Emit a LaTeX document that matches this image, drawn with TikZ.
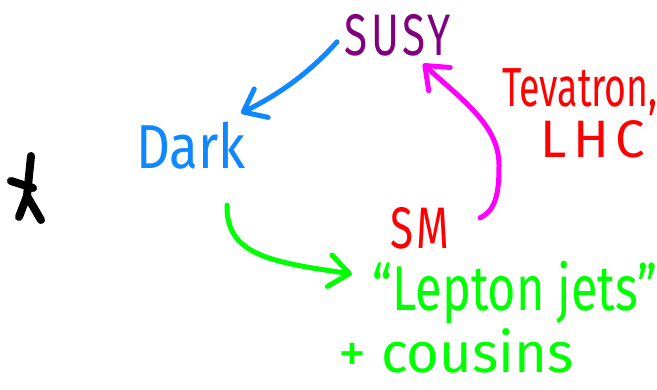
\documentclass[tikz,border=0pt]{standalone}
\usepackage{fontspec}
\setmainfont{Fira Sans}
\usetikzlibrary{arrows.meta}
\definecolor{cpurple}{RGB}{128,0,128}
\definecolor{cblue}{RGB}{15,135,255}
\definecolor{cred}{RGB}{255,0,0}
\definecolor{cmag}{RGB}{255,0,255}
\definecolor{cgreen}{RGB}{0,255,0}
\tikzset{
  lbl/.style={inner sep=0pt, outer sep=0pt},
  hand/.style={line width=0.15cm, line cap=round, line join=round,
    -{Straight Barb[length=0.6cm,width=0.95cm,line cap=round,line join=round]}},
  starstroke/.style={line width=0.24cm, line cap=round, line join=round, black}
}
\begin{document}
\begin{tikzpicture}[x=0.03cm,y=-0.03cm]
\useasboundingbox (0,0) rectangle (657,389);
% labels
\node[lbl, text=cpurple, anchor=base] (susy) at (398,55) {\fontsize{50}{50}\selectfont\scalebox{0.72}[1]{\addfontfeatures{LetterSpace=8}SUSY}};
\node[lbl, text=cblue, anchor=base] (dark) at (191,168) {\fontsize{53}{53}\selectfont\scalebox{0.85}[1]{Dark}};
\node[lbl, text=cred, anchor=base] (sm) at (420,248) {\fontsize{50}{50}\selectfont\scalebox{0.72}[1]{\addfontfeatures{LetterSpace=10}SM}};
\node[lbl, text=cred, anchor=base] (tev) at (580,106) {\fontsize{47}{47}\selectfont\scalebox{0.68}[1]{Tevatron,}};
\node[lbl, text=cred, anchor=base] (lhc) at (593,157) {\fontsize{45}{45}\selectfont\addfontfeatures{LetterSpace=12}LHC};
\node[lbl, text=cgreen, anchor=base] (lepton) at (515,310) {\fontsize{54}{54}\selectfont\scalebox{0.77}[1]{“Lepton jets”}};
\node[lbl, text=cgreen, anchor=base] (cousins) at (456,372) {\fontsize{48}{48}\selectfont + cousins};
% star
\coordinate (starc) at (27,196);
\draw[starstroke] (31,156) -- (starc);
\draw[starstroke] (11,181) -- (33,188);
\draw[starstroke] (starc) -- (19,217);
\draw[starstroke] (starc) -- (41,220);
% arrows
\draw[hand, cblue] ([shift={(-61,7)}]susy.center) .. controls (312,70) and (282,93) .. ([shift={(50,-32)}]dark.center);
\draw[hand, cmag] ([shift={(60,-10)}]sm.center) .. controls (497,210) and (499,190) .. (499,165) .. controls (499,125) and (462,100) .. ([shift={(25,29)}]susy.center);
\draw[hand, cgreen] ([shift={(36,60)}]dark.center) .. controls (226,255) and (270,262) .. ([shift={(-163,-36)}]lepton.base);
\end{tikzpicture}
\end{document}
